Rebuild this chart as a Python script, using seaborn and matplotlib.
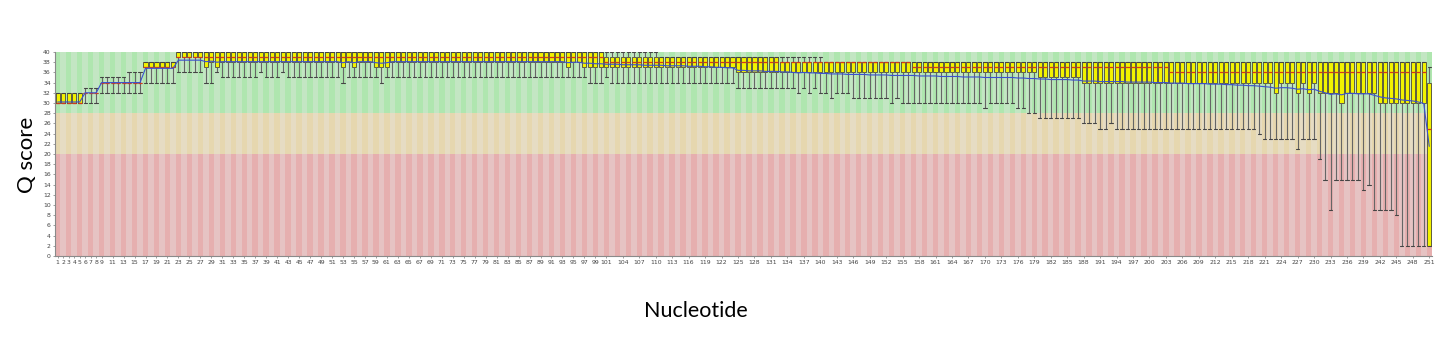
import numpy as np
import pandas as pd
import matplotlib
matplotlib.use("Agg")
import matplotlib.pyplot as plt
from matplotlib.patches import Rectangle
import seaborn as sns

# ---------------- data ----------------
positions = list(range(1, 252))

mean_q = [
    30.2, 30.2, 30.2, 30.2, 30.2, 32.0, 32.0, 32.0, 34.0, 34.0,
    34.0, 34.0, 34.0, 34.0, 34.0, 34.0, 36.8, 36.8, 36.8, 36.8,
    36.8, 36.8, 38.4, 38.4, 38.4, 38.4, 38.4, 38.1, 38.2, 38.0,
    38.1, 38.1, 38.1, 38.1, 38.1, 38.1, 38.1, 38.1, 38.1, 38.1,
    38.1, 38.1, 38.1, 38.1, 38.1, 38.1, 38.1, 38.1, 38.1, 38.1,
    38.1, 38.1, 37.9, 38.1, 37.9, 38.1, 38.1, 38.1, 37.9, 37.8,
    37.9, 38.1, 38.1, 38.1, 38.1, 38.1, 38.1, 38.1, 38.1, 38.1,
    38.1, 38.1, 38.1, 38.1, 38.1, 38.1, 38.1, 38.1, 38.1, 38.1,
    38.1, 38.1, 38.1, 38.1, 38.1, 38.1, 38.1, 38.1, 38.1, 38.1,
    38.1, 38.1, 38.1, 37.9, 38.0, 38.0, 37.8, 37.8, 37.7, 37.7,
    37.6, 37.6, 37.6, 37.5, 37.5, 37.5, 37.5, 37.4, 37.4, 37.4,
    37.4, 37.3, 37.3, 37.3, 37.3, 37.2, 37.2, 37.2, 37.1, 37.1,
    37.0, 37.0, 36.9, 36.9, 36.4, 36.4, 36.3, 36.3, 36.3, 36.2,
    36.2, 36.2, 36.1, 36.1, 36.0, 35.9, 36.0, 35.9, 35.9, 35.8,
    35.8, 35.7, 35.7, 35.7, 35.6, 35.6, 35.6, 35.6, 35.5, 35.5,
    35.5, 35.5, 35.4, 35.4, 35.4, 35.4, 35.4, 35.3, 35.3, 35.3,
    35.3, 35.2, 35.2, 35.2, 35.2, 35.1, 35.1, 35.1, 35.1, 35.0,
    35.0, 35.0, 35.0, 35.0, 35.0, 34.9, 34.9, 34.8, 34.8, 34.7,
    34.7, 34.6, 34.6, 34.6, 34.6, 34.5, 34.5, 34.3, 34.3, 34.3,
    34.2, 34.2, 34.2, 34.2, 34.2, 34.1, 34.1, 34.1, 34.1, 34.1,
    34.0, 34.0, 34.0, 33.9, 33.9, 33.9, 33.8, 33.8, 33.8, 33.8,
    33.7, 33.7, 33.7, 33.6, 33.6, 33.5, 33.5, 33.4, 33.4, 33.3,
    33.2, 33.1, 32.9, 33.0, 33.0, 32.9, 32.7, 32.8, 32.6, 32.7,
    32.3, 32.0, 31.7, 31.8, 31.6, 31.9, 31.9, 31.8, 31.8, 31.8,
    31.5, 31.2, 31.0, 30.9, 30.8, 30.6, 30.5, 30.4, 30.2, 29.9,
    21.5,
]

upper_whisker = [
    32, 32, 32, 32, 32, 33, 33, 33, 35, 35,
    35, 35, 35, 36, 36, 36, 38, 38, 38, 38,
    38, 38, 40, 40, 40, 40, 40, 40, 40, 40,
    40, 40, 40, 40, 40, 40, 40, 40, 40, 40,
    40, 40, 40, 40, 40, 40, 40, 40, 40, 40,
    40, 40, 40, 40, 40, 40, 40, 40, 40, 40,
    40, 40, 40, 40, 40, 40, 40, 40, 40, 40,
    40, 40, 40, 40, 40, 40, 40, 40, 40, 40,
    40, 40, 40, 40, 40, 40, 40, 40, 40, 40,
    40, 40, 40, 40, 40, 40, 40, 40, 40, 40,
    40, 40, 40, 40, 40, 40, 40, 40, 40, 40,
    39, 39, 39, 39, 39, 39, 39, 39, 39, 39,
    39, 39, 39, 39, 39, 39, 39, 39, 39, 39,
    39, 39, 39, 39, 39, 39, 39, 39, 39, 39,
    38, 38, 38, 38, 38, 38, 38, 38, 38, 38,
    38, 38, 38, 38, 38, 38, 38, 38, 38, 38,
    38, 38, 38, 38, 38, 38, 38, 38, 38, 38,
    38, 38, 38, 38, 38, 38, 38, 38, 38, 38,
    38, 38, 38, 38, 38, 38, 38, 38, 38, 38,
    38, 38, 38, 38, 38, 38, 38, 38, 38, 38,
    38, 38, 38, 38, 38, 38, 38, 38, 38, 38,
    38, 38, 38, 38, 38, 38, 38, 38, 38, 38,
    38, 38, 38, 38, 38, 38, 38, 38, 38, 38,
    38, 38, 38, 38, 38, 38, 38, 38, 38, 38,
    38, 38, 38, 38, 38, 38, 38, 38, 38, 38,
    37,
]

q3 = [
    32, 32, 32, 32, 32, 32, 32, 32, 34, 34,
    34, 34, 34, 34, 34, 34, 38, 38, 38, 38,
    38, 38, 40, 40, 40, 40, 40, 40, 40, 40,
    40, 40, 40, 40, 40, 40, 40, 40, 40, 40,
    40, 40, 40, 40, 40, 40, 40, 40, 40, 40,
    40, 40, 40, 40, 40, 40, 40, 40, 40, 40,
    40, 40, 40, 40, 40, 40, 40, 40, 40, 40,
    40, 40, 40, 40, 40, 40, 40, 40, 40, 40,
    40, 40, 40, 40, 40, 40, 40, 40, 40, 40,
    40, 40, 40, 40, 40, 40, 40, 40, 40, 40,
    39, 39, 39, 39, 39, 39, 39, 39, 39, 39,
    39, 39, 39, 39, 39, 39, 39, 39, 39, 39,
    39, 39, 39, 39, 39, 39, 39, 39, 39, 39,
    39, 39, 38, 38, 38, 38, 38, 38, 38, 38,
    38, 38, 38, 38, 38, 38, 38, 38, 38, 38,
    38, 38, 38, 38, 38, 38, 38, 38, 38, 38,
    38, 38, 38, 38, 38, 38, 38, 38, 38, 38,
    38, 38, 38, 38, 38, 38, 38, 38, 38, 38,
    38, 38, 38, 38, 38, 38, 38, 38, 38, 38,
    38, 38, 38, 38, 38, 38, 38, 38, 38, 38,
    38, 38, 38, 38, 38, 38, 38, 38, 38, 38,
    38, 38, 38, 38, 38, 38, 38, 38, 38, 38,
    38, 38, 38, 38, 38, 38, 38, 38, 38, 38,
    38, 38, 38, 38, 38, 38, 38, 38, 38, 38,
    38, 38, 38, 38, 38, 38, 38, 38, 38, 38,
    34,
]

median_q = [
    30, 30, 30, 30, 30, 32, 32, 32, 34, 34,
    34, 34, 34, 34, 34, 34, 37, 37, 37, 37,
    37, 37, 39, 39, 39, 39, 39, 39, 39, 39,
    39, 39, 39, 39, 39, 39, 39, 39, 39, 39,
    39, 39, 39, 39, 39, 39, 39, 39, 39, 39,
    39, 39, 39, 39, 39, 39, 39, 39, 39, 39,
    39, 39, 39, 39, 39, 39, 39, 39, 39, 39,
    39, 39, 39, 39, 39, 39, 39, 39, 39, 39,
    39, 39, 39, 39, 39, 39, 39, 39, 39, 39,
    39, 39, 39, 39, 39, 39, 39, 39, 39, 39,
    38, 38, 38, 38, 38, 38, 38, 38, 38, 38,
    38, 38, 38, 38, 38, 38, 38, 38, 38, 38,
    38, 38, 38, 38, 38, 38, 38, 38, 38, 38,
    38, 38, 38, 38, 38, 38, 38, 38, 38, 38,
    38, 38, 38, 38, 38, 38, 38, 38, 38, 38,
    38, 38, 38, 38, 38, 38, 37, 37, 37, 37,
    37, 37, 37, 37, 37, 37, 37, 37, 37, 37,
    37, 37, 37, 37, 37, 37, 37, 37, 37, 37,
    37, 37, 37, 37, 37, 37, 37, 37, 37, 37,
    37, 37, 37, 37, 37, 37, 37, 37, 37, 37,
    37, 37, 37, 36, 36, 36, 36, 36, 36, 36,
    36, 36, 36, 36, 36, 36, 36, 36, 36, 36,
    36, 36, 36, 36, 36, 36, 36, 36, 36, 36,
    36, 36, 36, 36, 36, 36, 36, 36, 36, 36,
    36, 36, 36, 36, 36, 36, 36, 36, 36, 36,
    25,
]

q1 = [
    30, 30, 30, 30, 30, 32, 32, 32, 34, 34,
    34, 34, 34, 34, 34, 34, 37, 37, 37, 37,
    37, 37, 39, 39, 39, 39, 39, 37, 38, 37,
    38, 38, 38, 38, 38, 38, 38, 38, 38, 38,
    38, 38, 38, 38, 38, 38, 38, 38, 38, 38,
    38, 38, 37, 38, 37, 38, 38, 38, 37, 37,
    37, 38, 38, 38, 38, 38, 38, 38, 38, 38,
    38, 38, 38, 38, 38, 38, 38, 38, 38, 38,
    38, 38, 38, 38, 38, 38, 38, 38, 38, 38,
    38, 38, 38, 37, 38, 38, 37, 37, 37, 37,
    37, 37, 37, 37, 37, 37, 37, 37, 37, 37,
    37, 37, 37, 37, 37, 37, 37, 37, 37, 37,
    37, 37, 37, 37, 36, 36, 36, 36, 36, 36,
    36, 36, 36, 36, 36, 36, 36, 36, 36, 36,
    36, 36, 36, 36, 36, 36, 36, 36, 36, 36,
    36, 36, 36, 36, 36, 36, 36, 36, 36, 36,
    36, 36, 36, 36, 36, 36, 36, 36, 36, 36,
    36, 36, 36, 36, 36, 36, 36, 36, 36, 35,
    35, 35, 35, 35, 35, 35, 35, 34, 34, 34,
    34, 34, 34, 34, 34, 34, 34, 34, 34, 34,
    34, 34, 34, 34, 34, 34, 34, 34, 34, 34,
    34, 34, 34, 34, 34, 34, 34, 34, 34, 34,
    34, 34, 32, 34, 34, 34, 32, 34, 32, 34,
    32, 32, 32, 32, 30, 32, 32, 32, 32, 32,
    32, 30, 30, 30, 30, 30, 30, 30, 30, 30,
    2,
]

lower_whisker = [
    30, 30, 30, 30, 30, 30, 30, 30, 32, 32,
    32, 32, 32, 32, 32, 32, 34, 34, 34, 34,
    34, 34, 36, 36, 36, 36, 36, 34, 34, 36,
    35, 35, 35, 35, 35, 35, 35, 36, 35, 35,
    35, 36, 35, 35, 35, 35, 35, 35, 35, 35,
    35, 35, 34, 35, 35, 35, 35, 35, 35, 34,
    35, 35, 35, 35, 35, 35, 35, 35, 35, 35,
    35, 35, 35, 35, 35, 35, 35, 35, 35, 35,
    35, 35, 35, 35, 35, 35, 35, 35, 35, 35,
    35, 35, 35, 35, 35, 35, 35, 34, 34, 34,
    35, 34, 34, 34, 34, 34, 34, 34, 34, 34,
    34, 34, 34, 34, 34, 34, 34, 34, 34, 34,
    34, 34, 34, 34, 33, 33, 33, 33, 33, 33,
    33, 33, 33, 33, 33, 32, 33, 32, 33, 32,
    32, 31, 32, 32, 32, 31, 31, 31, 31, 31,
    31, 31, 30, 31, 30, 30, 30, 30, 30, 30,
    30, 30, 30, 30, 30, 30, 30, 30, 30, 29,
    30, 30, 30, 30, 30, 29, 29, 28, 28, 27,
    27, 27, 27, 27, 27, 27, 27, 26, 26, 26,
    25, 25, 26, 25, 25, 25, 25, 25, 25, 25,
    25, 25, 25, 25, 25, 25, 25, 25, 25, 25,
    25, 25, 25, 25, 25, 25, 25, 25, 25, 24,
    23, 23, 23, 23, 23, 23, 21, 23, 23, 23,
    19, 15, 9, 15, 15, 15, 15, 15, 13, 14,
    9, 9, 9, 9, 8, 2, 2, 2, 2, 2,
    2,
]

tick_positions = list(range(1, 10)) + list(range(11, 102, 2)) + list(range(104, 252, 3))
tick_labels = [str(v) for v in tick_positions]
y_ticks = list(range(0, 41, 2))

# quality zones: (lower, upper, dark colour, light colour)
zones = [
    (28, 40, "#afe6af", "#c3e6c3"),
    (20, 28, "#e6d7af", "#e6dcc3"),
    (0, 20, "#e6afaf", "#e6c3c3"),
]

df = pd.DataFrame({
    "position": positions, "mean": mean_q, "q1": q1, "median": median_q,
    "q3": q3, "lo": lower_whisker, "hi": upper_whisker,
})

# ---------------- figure ----------------
sns.set_theme(style="white")
plt.rcParams["font.family"] = ["DejaVu Sans"]

fig = plt.figure(figsize=(14.37, 3.42), dpi=100)
ax = fig.add_axes([55 / 1437, 1 - 256 / 342, 1377 / 1437, 204 / 342])

n = len(positions)
ax.set_xlim(0.5, n + 0.5)
ax.set_ylim(0, 40)

# background zones with alternating stripes
for lo_z, hi_z, dark, light in zones:
    ax.axhspan(lo_z, hi_z, color=light, zorder=0, lw=0)
    for p in positions:
        if p % 2 == 1:
            ax.add_patch(Rectangle((p - 0.5, lo_z), 1, hi_z - lo_z,
                                   facecolor=dark, edgecolor="none", zorder=0.5))

# box plots from the per-position statistics
stats = []
for _, r in df.iterrows():
    stats.append({"med": r["median"], "q1": r["q1"], "q3": r["q3"],
                  "whislo": r["lo"], "whishi": r["hi"], "fliers": []})

ax.bxp(stats, positions=positions, widths=0.74, capwidths=0.6,
       patch_artist=True, showfliers=False, manage_ticks=False,
       boxprops=dict(facecolor="#f2f200", edgecolor="#5e5e40", linewidth=0.7),
       medianprops=dict(color="#d43a1a", linewidth=0.9),
       whiskerprops=dict(color="#666666", linewidth=0.8),
       capprops=dict(color="#444444", linewidth=0.8),
       zorder=3)

# mean line
sns.lineplot(data=df, x="position", y="mean", ax=ax, color="#3a50d0",
             linewidth=0.8, zorder=4, legend=False)

# axes styling
ax.set_xticks(tick_positions)
ax.set_xticklabels(tick_labels, fontsize=4.4, color="#444444")
ax.set_yticks(y_ticks)
ax.set_yticklabels([str(v) for v in y_ticks], fontsize=4.4, color="#444444")
ax.tick_params(axis="both", length=1.5, width=0.5, colors="#777777", pad=1.5,
               labelcolor="#444444", bottom=True, left=True)
for s in ["top", "right"]:
    ax.spines[s].set_visible(False)
for s in ["left", "bottom"]:
    ax.spines[s].set_color("#8a8a8a")
    ax.spines[s].set_linewidth(0.8)
ax.grid(False)

ax.set_ylabel("Q score", fontsize=16, family=["Lato", "DejaVu Sans"], color="black")
ax.yaxis.set_label_coords((37 - 55) / 1377, 0.495)
ax.set_xlabel("Nucleotide", fontsize=15.5, family=["Lato", "DejaVu Sans"], color="black")
ax.xaxis.set_label_coords((696 - 55) / 1377, (256 - 301) / 204)

fig.savefig("out.png", dpi=100)
